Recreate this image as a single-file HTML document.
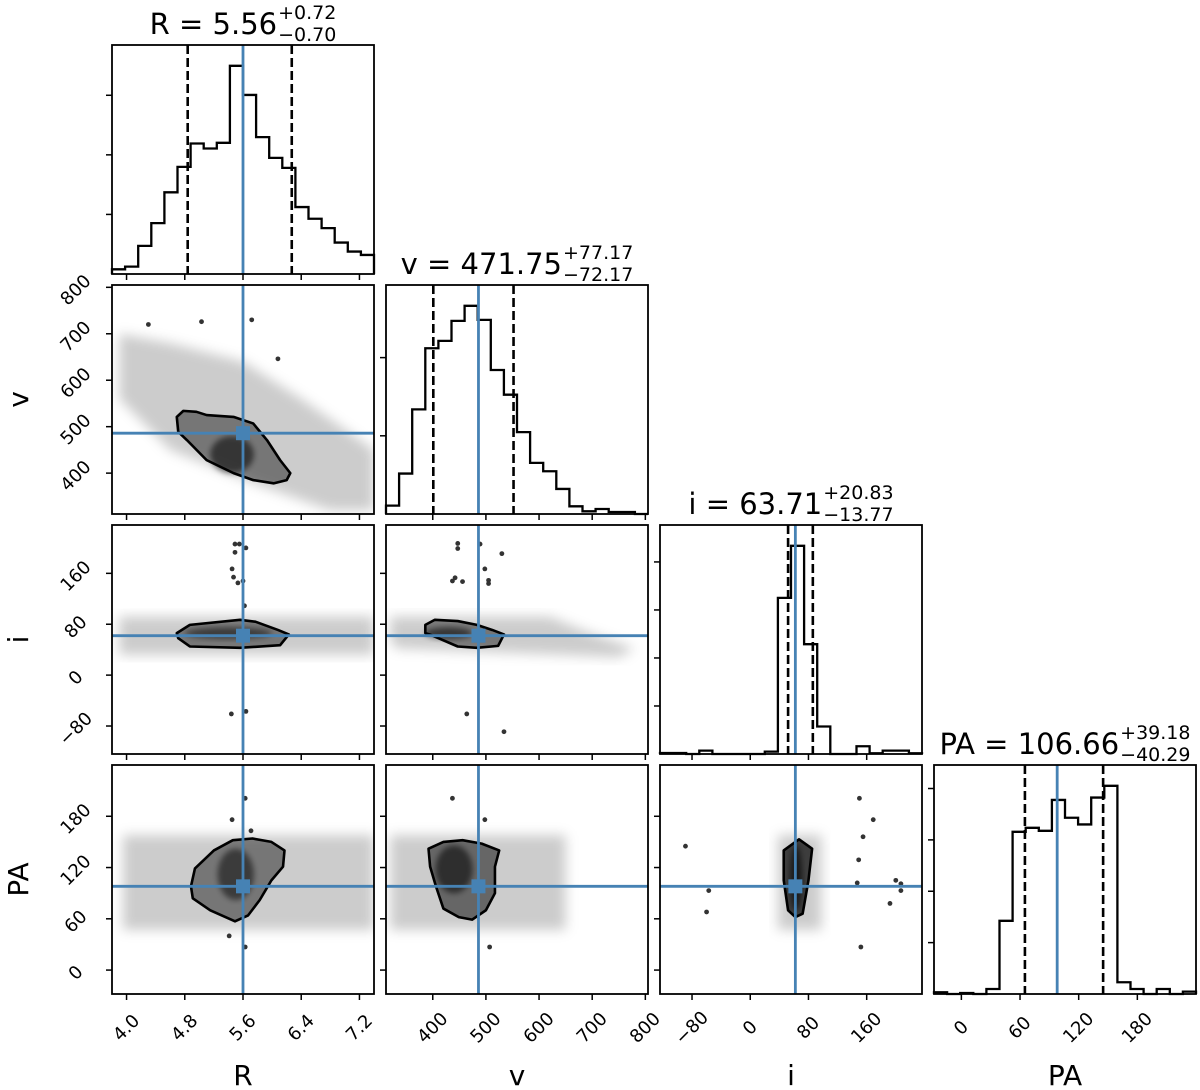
<!DOCTYPE html>
<html><head><meta charset="utf-8"><title>Corner plot</title>
<style>
html,body{margin:0;padding:0;background:#fff;}
svg{display:block;font-family:"DejaVu Sans","Liberation Sans",sans-serif;}
</style></head>
<body>
<svg id="chart" width="1200" height="1090" viewBox="0 0 1200 1090" xmlns="http://www.w3.org/2000/svg">
<defs>
<filter id="blur6" x="-20%" y="-20%" width="140%" height="140%"><feGaussianBlur stdDeviation="6"/></filter>
<filter id="blur3" x="-30%" y="-30%" width="160%" height="160%"><feGaussianBlur stdDeviation="3"/></filter>
</defs>
</svg>
<script>
// ---- data ----
const paramNames = ['R','v','i','PA'];
const ranges = [[3.8,7.4],[312,805],[-124,236],[-28,240]];
const truths = [5.6,486,62,98];
const q16 = [4.84,401,52,65];
const q84 = [6.27,552,86,145];
const titleMain = ['R = 5.56','v = 471.75','i = 63.71','PA = 106.66'];
const titlePlus = ['+0.72','+77.17','+20.83','+39.18'];
const titleMinus = ['\u22120.70','\u221272.17','\u221213.77','\u221240.29'];
const rHist  = [14,22,84,152,244,320,390,375,392,622,535,409,347,317,200,165,137,94,67,57];
const vHist  = [25,121,313,496,518,578,623,581,431,357,245,153,128,75,23,8,15,6,6,0];
const iHist  = [3,3,0,10,0,0,0,0,7,465,620,327,82,0,0,23,2,10,10,2];
const paHist = [5,0,3,0,15,218,483,495,486,578,525,505,585,620,35,15,0,15,0,7];
const histTickSteps = [178,234,143,153];
const rTicks = [4.0,4.8,5.6,6.4,7.2];
const rTickLabels = ['4.0','4.8','5.6','6.4','7.2'];
const vTicks = [400,500,600,700,800];
const vTickLabels = ['400','500','600','700','800'];
const iTicks = [-80,0,80,160];
const iTickLabels = ['\u221280','0','80','160'];
const paTicks = [0,60,120,180];
const paTickLabels = ['0','60','120','180'];

// 2D panels: clouds, contours, cores, outliers (data coordinates)
const cloudRv = [[3.9,700],[4.6,680],[5.6,640],[6.4,560],[7.4,450],[7.4,320],[6.8,320],[5.8,375],[4.6,450],[3.9,560]];
const cloudRi = [[3.9,92],[7.4,92],[7.4,32],[3.9,32]];
const cloudVi = [[320,92],[620,92],[690,68],[780,42],[750,28],[640,32],[330,42],[320,55]];
const cloudRpa = [[3.95,158],[7.4,158],[7.4,47],[3.95,47]];
const cloudVpa = [[320,158],[650,158],[650,47],[320,47]];
const cloudIpa = [[38,158],[98,158],[98,47],[38,47]];
const contourRv = [[4.69,521],[4.78,534],[4.96,532],[5.10,525],[5.47,521],[5.74,507],[5.93,471],[6.11,428],[6.25,400],[6.20,385],[6.02,378],[5.74,385],[5.47,400],[5.10,428],[4.83,471],[4.71,489]];
const contourRi = [[4.69,66],[4.87,79],[5.56,87],[5.77,84],[6.08,71],[6.23,64],[6.11,47],[5.56,43],[4.87,45],[4.71,58]];
const contourVi = [[386,79],[404,87],[447,85],[483,79],[512,71],[534,64],[523,46],[483,43],[447,45],[397,63],[386,66]];
const contourRpa = [[4.885,98],[4.94,119],[5.2,140],[5.46,152],[5.73,154],[5.99,150],[6.17,140],[6.15,121],[5.99,105],[5.83,82],[5.67,64],[5.49,57],[5.15,70],[4.91,84]];
const contourVpa = [[392,142],[420,150],[456,152],[492,148],[525,140],[517,121],[517,90],[500,70],[474,59],[449,62],[420,72],[406,98],[395,121]];
const contourIpa = [[46,140],[67,153],[85,142],[80,105],[72,66],[62,62],[52,70],[46,105]];
const coreRv = [5.45,440,0.3,40];
const coreRi = [5.4,66,0.6,9];
const coreVi = [430,66,45,9];
const coreRpa = [5.5,112,0.25,30];
const coreVpa = [440,118,35,28];
const coreIpa = [63,108,8,38];
const outRv = [[4.3,720],[5.72,730],[6.08,646],[5.03,726]];
const outRi = [[5.49,206],[5.55,206],[5.64,200],[5.49,193],[5.45,167],[5.47,154],[5.53,145],[5.6,148],[5.62,109],[5.44,-61],[5.64,-57]];
const outVi = [[447,207],[447,199],[489,206],[530,191],[498,167],[437,148],[442,153],[456,147],[505,149],[505,144],[464,-61],[534,-89]];
const outRpa = [[5.63,201],[5.45,176],[5.71,163],[5.41,40],[5.63,27]];
const outVpa = [[437,201],[498,176],[507,27]];
const outIpa = [[150,201],[169,176],[155,156],[149,129],[147,102],[200,105],[207,101],[207,93],[192,78],[152,27],[-89,145],[-57,93],[-60,68]];

// ---- layout ----
const colX = [112,386,660,934];
const rowY = [45,285,525,765];
const pw = 262, ph = 229;
const svg = document.getElementById('chart');
const NS = 'http://www.w3.org/2000/svg';
function mk(tag, attrs, parent){
  const e = document.createElementNS(NS, tag);
  for (const k in attrs) e.setAttribute(k, attrs[k]);
  (parent||svg).appendChild(e);
  return e;
}
function sx(c,v){ const r=ranges[c]; return colX[c]+(v-r[0])/(r[1]-r[0])*pw; }
function sy(rw,v){ const r=ranges[rw]; return rowY[rw]+ph-(v-r[0])/(r[1]-r[0])*ph; }
const hists = [rHist,vHist,iHist,paHist];
const ticks = [rTicks,vTicks,iTicks,paTicks];
const tickLabels = [rTickLabels,vTickLabels,iTickLabels,paTickLabels];
const BLUE = '#4682b4';

function frame(c,r,name){
  const f = mk('rect',{x:colX[c],y:rowY[r],width:pw,height:ph,fill:'none',stroke:'#000','stroke-width':1.8});
  
  
}
function xTicksFor(c,r){
  const base = rowY[r]+ph;
  ticks[c].forEach((t,k)=>{
    const x = sx(c,t);
    const tk = mk('line',{x1:x,x2:x,y1:base,y2:base+6,stroke:'#000','stroke-width':1.5});
    
    
    if (r===3){
      const ly = base+34;
      const lb = mk('text',{x:x,y:ly,'font-size':18,'text-anchor':'middle','dominant-baseline':'central',transform:`rotate(-45 ${x} ${ly})`});
      lb.textContent = tickLabels[c][k];
      
      
    }
  });
}
function yTicksFor(c,r){
  const x0 = colX[c];
  ticks[r].forEach((t,k)=>{
    const y = sy(r,t);
    if (y<rowY[r]-0.5||y>rowY[r]+ph+0.5) return;
    const tk = mk('line',{x1:x0-6,x2:x0,y1:y,y2:y,stroke:'#000','stroke-width':1.5});
    
    
    if (c===0){
      const lx = x0-36, ly = y+3;
      const lb = mk('text',{x:lx,y:ly,'font-size':18,'text-anchor':'middle','dominant-baseline':'central',transform:`rotate(-45 ${lx} ${ly})`});
      lb.textContent = tickLabels[r][k];
      
      
    }
  });
}

// ---- diagonal histograms ----
for (let k=0;k<4;k++){
  const g = mk('g',{});
  
  
  const h = hists[k];
  const ymax = 1.1*Math.max(...h);
  const rr = ranges[k];
  const bw = (rr[1]-rr[0])/h.length;
  const base = rowY[k]+ph;
  const hy = v => base - v/ymax*ph;
  let d = `M${sx(k,rr[0])},${base}`;
  h.forEach((v,b)=>{
    d += ` L${sx(k,rr[0]+b*bw)},${hy(v)} L${sx(k,rr[0]+(b+1)*bw)},${hy(v)}`;
  });
  d += ` L${sx(k,rr[1])},${base}`;
  const p = mk('path',{d:d,fill:'none',stroke:'#000','stroke-width':2.3,'stroke-linejoin':'miter'},g);
  
  
  [q16[k],q84[k]].forEach(q=>{
    const l = mk('line',{x1:sx(k,q),x2:sx(k,q),y1:rowY[k],y2:base,stroke:'#000','stroke-width':2.6,'stroke-dasharray':'9,4'},g);
    
    
  });
  const tl = mk('line',{x1:sx(k,truths[k]),x2:sx(k,truths[k]),y1:rowY[k],y2:base,stroke:BLUE,'stroke-width':2.8},g);
  
  
  for (let t=histTickSteps[k]; t<ymax; t+=histTickSteps[k]){
    const tk = mk('line',{x1:colX[k]-6,x2:colX[k],y1:hy(t),y2:hy(t),stroke:'#000','stroke-width':1.5},g);
    
    
  }
  frame(k,k,'histogram-'+paramNames[k].toLowerCase());
  xTicksFor(k,k);
  const cx = colX[k]+pw/2;
  const tg = mk('g',{});
  
  
  const tm = mk('text',{x:0,y:rowY[k]-11,'font-size':29},tg);
  tm.textContent = titleMain[k];
  const tp = mk('text',{x:0,y:rowY[k]-26,'font-size':19},tg);
  tp.textContent = titlePlus[k];
  const tn = mk('text',{x:0,y:rowY[k]-4,'font-size':19},tg);
  tn.textContent = titleMinus[k];
  const lm = tm.getComputedTextLength(), ls = Math.max(tp.getComputedTextLength(), tn.getComputedTextLength());
  const x0 = cx - (lm+ls+1)/2;
  tm.setAttribute('x', x0);
  tp.setAttribute('x', x0+lm+1);
  tn.setAttribute('x', x0+lm+1);
}

// ---- 2D panels ----
const panels = [
  {c:0,r:1,cloud:cloudRv,contour:contourRv,core:coreRv,out:outRv,fill:0.42,coreOp:0.55},
  {c:0,r:2,cloud:cloudRi,contour:contourRi,core:coreRi,out:outRi,fill:0.42,coreOp:0.5},
  {c:1,r:2,cloud:cloudVi,contour:contourVi,core:coreVi,out:outVi,fill:0.42,coreOp:0.55},
  {c:0,r:3,cloud:cloudRpa,contour:contourRpa,core:coreRpa,out:outRpa,fill:0.42,coreOp:0.5},
  {c:1,r:3,cloud:cloudVpa,contour:contourVpa,core:coreVpa,out:outVpa,fill:0.5,coreOp:0.55},
  {c:2,r:3,cloud:cloudIpa,contour:contourIpa,core:coreIpa,out:outIpa,fill:0.7,coreOp:0.6},
];
panels.forEach((P,idx)=>{
  const {c,r} = P;
  const name = 'scatter-'+paramNames[c].toLowerCase()+'-vs-'+paramNames[r].toLowerCase();
  const cp = mk('clipPath',{id:'clip'+idx}, svg.querySelector('defs'));
  mk('rect',{x:colX[c],y:rowY[r],width:pw,height:ph},cp);
  const g = mk('g',{'clip-path':`url(#clip${idx})`});
  
  
  const pts = arr => arr.map(p=>`${sx(c,p[0])},${sy(r,p[1])}`).join(' ');
  const cl = mk('polygon',{points:pts(P.cloud),fill:'rgba(0,0,0,0.2)',filter:'url(#blur6)'},g);
  
  
  const inner = mk('polygon',{points:pts(P.contour),fill:`rgba(0,0,0,${P.fill})`},g);
  
  
  const co = P.core;
  const rx = Math.abs(sx(c,co[0]+co[2])-sx(c,co[0])), ry = Math.abs(sy(r,co[1]+co[3])-sy(r,co[1]));
  const ce = mk('ellipse',{cx:sx(c,co[0]),cy:sy(r,co[1]),rx:rx,ry:ry,fill:`rgba(0,0,0,${P.coreOp})`,filter:'url(#blur3)'},g);
  
  
  const ct = mk('polygon',{points:pts(P.contour),fill:'none',stroke:'#000','stroke-width':2.6,'stroke-linejoin':'round'},g);
  
  
  P.out.forEach(p=>{
    const d = mk('circle',{cx:sx(c,p[0]),cy:sy(r,p[1]),r:2.4,fill:'#333'},g);
    
    
  });
  const tx = sx(c,truths[c]), ty = sy(r,truths[r]);
  const vl = mk('line',{x1:tx,x2:tx,y1:rowY[r],y2:rowY[r]+ph,stroke:BLUE,'stroke-width':2.8},g);
  
  
  const hl = mk('line',{x1:colX[c],x2:colX[c]+pw,y1:ty,y2:ty,stroke:BLUE,'stroke-width':2.8},g);
  
  
  const sq = mk('rect',{x:tx-7,y:ty-7,width:14,height:14,fill:BLUE},g);
  
  
  frame(c,r,name);
  xTicksFor(c,r);
  yTicksFor(c,r);
});

// ---- axis labels ----
for (let k=0;k<4;k++){
  const x = colX[k]+pw/2;
  const t = mk('text',{x:x,y:1085,'font-size':28,'text-anchor':'middle'});
  t.textContent = paramNames[k];
  
  
}
for (let k=1;k<4;k++){
  const y = rowY[k]+ph/2;
  const t = mk('text',{x:28,y:y,'font-size':28,'text-anchor':'middle',transform:`rotate(-90 28 ${y})`});
  t.textContent = paramNames[k];
  
  
}
</script>
</body></html>
